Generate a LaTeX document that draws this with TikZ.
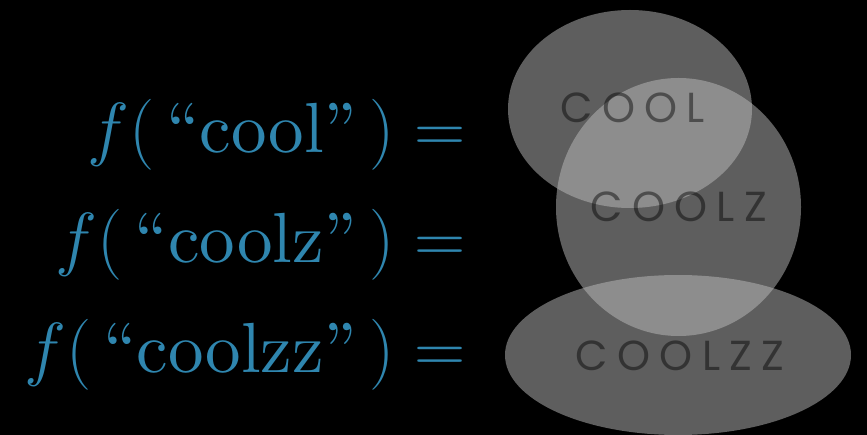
\RequirePackage{fix-cm}
\documentclass[tikz,border=0pt]{standalone}
\usepackage{amsmath}
\usepackage{fontspec}
\setmainfont{lmroman10-regular.otf}
\newfontfamily\labelfont[LetterSpace=22]{Poppins}
\definecolor{mathblue}{RGB}{47,134,175}

\begin{document}
\begin{tikzpicture}[x=1pt, y=-1pt,
    lhs/.style={anchor=base east, inner sep=0pt, text=mathblue, font=\fontsize{71}{86}\selectfont},
    blob/.style={fill=white!74!black, fill opacity=0.5},
    word/.style={anchor=center, inner sep=0pt, text=black, text opacity=0.45, font=\labelfont\fontsize{42}{50}\selectfont}]

  %% ════ background ════
  \fill[black] (0,0) rectangle (867,435);

  %% ════ left-hand sides ════
  \node[lhs] (lhsCool)   at (465.5,153) {$f(\,\text{``cool''}\,) =$};
  \node[lhs] (lhsCoolz)  at (465.5,263) {$f(\,\text{``coolz''}\,) =$};
  \node[lhs] (lhsCoolzz) at (465.5,372) {$f(\,\text{``coolzz''}\,) =$};

  %% ════ ellipses (drawn in order, they overlap) ════
  \fill[blob] (630.0,109.0) ellipse (122 and 99);
  \fill[blob] (678.5,207.0) ellipse (122.5 and 129);
  \fill[blob] (678.0,355.0) ellipse (173 and 80);

  %% ════ labels on top ════
  \node[word] (lblCool)   at (633,107.5) {COOL};
  \node[word] (lblCoolz)  at (679,207)   {COOLZ};
  \node[word] (lblCoolzz) at (680,355.5) {COOLZZ};

  \pgfresetboundingbox
  \path[use as bounding box] (0,0) rectangle (867,435);
\end{tikzpicture}
\end{document}
